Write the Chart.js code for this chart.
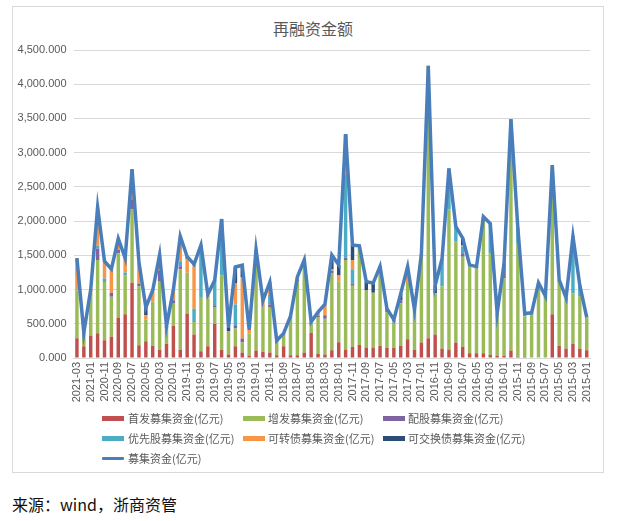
<!DOCTYPE html>
<html><head><meta charset="utf-8">
<script src="https://cdn.jsdelivr.net/npm/chart.js@4"></script>
<style>
html,body{margin:0;padding:0;background:#fff;}
#wrap{position:relative;width:617px;height:521px;background:#fff;font-family:"Noto Sans CJK SC","Noto Sans",sans-serif;}
#frame{position:absolute;left:12px;top:6px;width:592px;height:467px;border:1px solid #d9d9d9;box-sizing:border-box;}
#title{position:absolute;left:0;width:626px;top:17px;text-align:center;font-size:16px;line-height:22px;color:#595959;}
#cv{position:absolute;left:12px;top:6px;}
.lg{position:absolute;font-size:11px;line-height:14px;color:#595959;white-space:nowrap;}
.sw{position:absolute;width:22px;height:5px;}
#src{position:absolute;left:12px;top:493px;font-size:16px;line-height:22px;color:#111;}
</style></head>
<body><div id="wrap">
<div id="frame"></div>
<div id="title">再融资金额</div>
<canvas id="cv" width="592" height="405"></canvas>
<div id="legend"></div>
<div id="src">来源：wind，浙商资管</div>
</div>
<script>
const months = ["2021-03","2021-02","2021-01",
"2020-12","2020-11","2020-10","2020-09","2020-08","2020-07","2020-06","2020-05","2020-04","2020-03","2020-02","2020-01",
"2019-12","2019-11","2019-10","2019-09","2019-08","2019-07","2019-06","2019-05","2019-04","2019-03","2019-02","2019-01",
"2018-12","2018-11","2018-10","2018-09","2018-08","2018-07","2018-06","2018-05","2018-04","2018-03","2018-02","2018-01",
"2017-12","2017-11","2017-10","2017-09","2017-08","2017-07","2017-06","2017-05","2017-04","2017-03","2017-02","2017-01",
"2016-12","2016-11","2016-10","2016-09","2016-08","2016-07","2016-06","2016-05","2016-04","2016-03","2016-02","2016-01",
"2015-12","2015-11","2015-10","2015-09","2015-08","2015-07","2015-06","2015-05","2015-04","2015-03","2015-02","2015-01"];

const ipo = [290,170,330, 360,260,310,590,640,1100,185,245,175,120,210,470,
120,650,345,100,170,500,120,50,170,80,30,110,
90,80,40,170,40,40,80,365,60,50,115,230,
125,165,190,155,155,175,150,150,175,275,120,225,
290,345,140,125,225,165,70,70,70,45,30,30,
110,20,15,0,0,0,640,175,140,205,135,115];

const seo = [700,185,620, 1070,850,585,940,570,1075,865,320,655,1005,230,335,
1175,595,180,790,700,245,1090,345,260,145,325,1400,
640,665,215,190,570,1080,1355,165,540,525,1120,885,
1305,890,1450,840,800,1105,520,390,620,820,585,1295,
3950,600,910,2045,1475,1315,1270,1240,1995,1485,595,1135,
3380,1660,590,660,1100,905,2180,965,740,740,770,480];

const rights = [0,0,0, 170,0,60,50,0,140,40,0,0,155,0,40,
45,0,0,0,0,15,0,0,50,60,0,0,
0,35,0,0,0,20,0,0,20,50,40,0,
35,30,0,0,0,60,50,20,50,0,0,0,
0,0,0,0,0,40,0,25,0,0,15,215,
0,0,0,0,0,0,0,0,0,0,0,0];

const preferred = [0,0,0, 40,50,0,0,40,0,0,0,0,0,0,0,
75,0,195,760,0,375,820,0,300,0,0,0,
0,140,0,0,0,0,0,0,0,0,0,0,
1210,200,0,0,0,0,0,0,0,0,0,0,
0,0,400,600,220,110,0,0,0,435,0,0,
0,220,45,0,0,0,0,0,0,830,140,0];

const convertible = [470,15,50, 560,250,340,160,210,440,310,60,160,230,0,155,
365,205,650,0,60,0,0,0,315,900,55,75,
110,190,0,0,0,45,0,0,50,160,20,90,
170,145,0,0,0,0,0,0,0,240,0,0,
30,0,0,0,0,20,20,0,0,0,15,0,
0,0,0,0,0,0,0,0,0,0,15,0];

const exchangeable = [0,0,0, 0,0,0,0,0,0,0,115,0,0,25,0,
0,30,0,0,0,0,0,55,235,170,0,0,
0,0,0,0,0,0,0,0,0,0,210,155,
425,220,0,120,140,0,0,0,95,0,0,0,
0,115,0,0,0,100,0,0,0,0,0,0,
0,0,0,0,0,0,0,0,0,0,0,0];

const total = [1460,370,1000, 2200,1415,1300,1745,1460,2760,1400,740,990,1510,465,1000,
1780,1480,1370,1650,930,1135,2030,450,1330,1355,410,1585,
840,1110,255,360,610,1185,1435,530,670,785,1505,1360,
3270,1650,1640,1115,1095,1340,720,560,940,1335,705,1520,
4270,1060,1450,2770,1920,1750,1360,1335,2065,1965,655,1380,
3490,1900,650,660,1100,905,2820,1140,880,1775,1060,595];

const yTicks = [0,500,1000,1500,2000,2500,3000,3500,4000,4500];

const seriesNames = ["首发募集资金(亿元)","增发募集资金(亿元)","配股募集资金(亿元)","优先股募集资金(亿元)","可转债募集资金(亿元)","可交换债募集资金(亿元)","募集资金(亿元)"];
const colors = ["#C0504D","#9BBB59","#8064A2","#4BACC6","#F79646","#2C4D75","#4A7EBB"];
const barSeries = [ipo, seo, rights, preferred, convertible, exchangeable];

const datasets = barSeries.map((d,k)=>({
  type:'bar', label:seriesNames[k], data:d, backgroundColor:colors[k],
  stack:'s', barPercentage:0.5, categoryPercentage:1, order:2
}));
datasets.push({type:'line', label:seriesNames[6], data:total, borderColor:colors[6], backgroundColor:colors[6],
  borderWidth:3.5, pointRadius:0, tension:0, stack:'line', order:0, borderJoinStyle:'miter'});

const fmt = v => v.toLocaleString('en-US',{minimumFractionDigits:3, maximumFractionDigits:3});

new Chart(document.getElementById('cv'), {
  data:{labels:months, datasets},
  options:{
    responsive:false, animation:false,
    layout:{padding:{top:44,right:11.5,left:0,bottom:0}},
    plugins:{legend:{display:false}, title:{display:false}, tooltip:{enabled:false}},
    scales:{
      x:{stacked:true, offset:true,
        grid:{display:false, drawTicks:false},
        border:{display:true,color:'#d9d9d9'},
        ticks:{autoSkip:false, maxRotation:90, minRotation:90, padding:4,
          color:'#595959', font:{family:'Liberation Sans', size:11},
          callback:(v,idx)=> idx%2===0 ? months[idx] : ''},
        afterFit:s=>{s.height=53;}
      },
      y:{stacked:true, min:0, max:4500,
        afterBuildTicks:s=>{s.ticks = yTicks.map(v=>({value:v}));},
        grid:{color:'#d9d9d9', drawTicks:false, lineWidth:1},
        border:{display:false},
        ticks:{padding:7, color:'#595959', font:{family:'Liberation Sans', size:11}, callback:v=>fmt(v)},
        afterFit:s=>{s.width=61.5;}
      }
    }
  }
});

// legend
const lg = document.getElementById('legend');
const pos = [[102,128,418],[243,268,418],[383,408,418],[102,128,438],[243,268,438],[383,408,438],[102,128,458]];
seriesNames.forEach((n,k)=>{
  const [sx,tx,cy]=pos[k];
  const sw=document.createElement('div'); sw.className='sw';
  sw.style.left=sx+'px'; sw.style.background=colors[k];
  if(k===6){sw.style.height='3px'; sw.style.top=(cy-1.5)+'px'; sw.style.borderRadius='1px';}
  else sw.style.top=(cy-2.5)+'px';
  lg.appendChild(sw);
  const t=document.createElement('div'); t.className='lg'; t.textContent=n;
  t.style.left=tx+'px'; t.style.top=(cy-7)+'px';
  lg.appendChild(t);
});
</script>
</body></html>
